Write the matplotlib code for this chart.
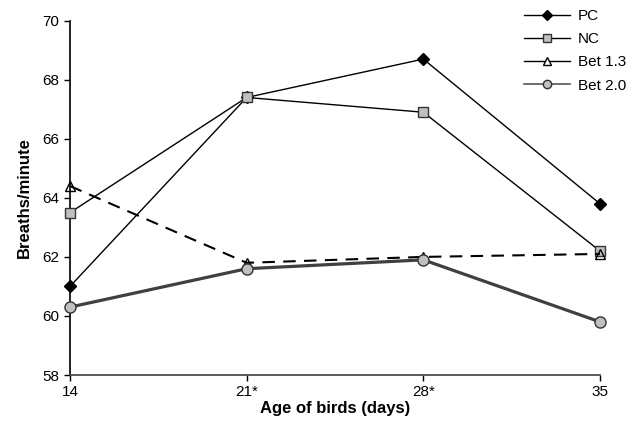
import matplotlib
matplotlib.use("Agg")
import matplotlib.pyplot as plt
from matplotlib.lines import Line2D

plt.rcParams['font.family'] = ['Liberation Sans', 'DejaVu Sans']

categories = ["14", "21*", "28*", "35"]
pc = [61.0, 67.4, 68.7, 63.8]
nc = [63.5, 67.4, 66.9, 62.2]
bet13 = [64.4, 61.8, 62.0, 62.1]
bet20 = [60.3, 61.6, 61.9, 59.8]
yticks = [58, 60, 62, 64, 66, 68, 70]
series_names = ["PC", "NC", "Bet 1.3", "Bet 2.0"]

fig = plt.figure(figsize=(6.34, 4.30), dpi=100)
ax = fig.add_axes([70/634, 1-375/430, 530/634, (375-20.7)/430])

x = list(range(len(categories)))
ax.plot(x, pc, color='black', lw=1.0, marker='D', ms=6, mfc='black', mec='black', zorder=3, clip_on=False)
ax.plot(x, nc, color='black', lw=1.0, marker='s', ms=7, mfc='#c0c0c0', mec='#333333', mew=1.0, zorder=3, clip_on=False)
ax.plot(x, bet13, color='black', lw=1.5, ls=(0, (6, 4)), marker='^', ms=7, mfc='none', mec='black', mew=1.0, zorder=4, clip_on=False)
ax.plot(x, bet20, color='#404040', lw=2.3, marker='o', ms=8, mfc='#c0c0c0', mec='#333333', mew=1.0, zorder=5, clip_on=False)

ax.set_xlim(0, len(categories) - 1)
ax.set_ylim(58, 70)
ax.set_xticks(x)
ax.set_xticklabels(categories)
ax.set_yticks(yticks)
ax.tick_params(axis='both', labelsize=11, direction='out', length=4, width=1)
for s in ['top', 'right']:
    ax.spines[s].set_visible(False)
for s in ['left', 'bottom']:
    ax.spines[s].set_linewidth(1.2)
ax.spines['bottom'].set_color('#404040')

ax.set_xlabel('Age of birds (days)', fontsize=12, fontweight='bold', labelpad=1)
ax.set_ylabel('Breaths/minute', fontsize=12, fontweight='bold', labelpad=8)

handles = [
    Line2D([], [], color='black', lw=1.0, marker='D', ms=5, mfc='black', mec='black'),
    Line2D([], [], color='black', lw=1.0, marker='s', ms=6, mfc='#c0c0c0', mec='#333333'),
    Line2D([], [], color='black', lw=1.0, marker='^', ms=6, mfc='white', mec='black'),
    Line2D([], [], color='#555555', lw=1.2, marker='o', ms=6, mfc='#c0c0c0', mec='#333333'),
]
leg = ax.legend(handles, series_names, loc='upper right', bbox_to_anchor=(626/634, 1 - 9/430),
                bbox_transform=fig.transFigure,
                frameon=False, fontsize=11, handlelength=3.0, handletextpad=0.5, labelspacing=0.6,
                borderaxespad=0, borderpad=0)
fig.savefig('out.png', dpi=100)
